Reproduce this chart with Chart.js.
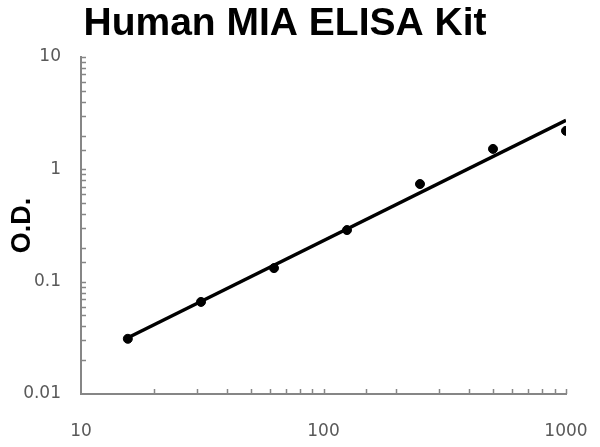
<!DOCTYPE html>
<html>
<head>
<meta charset="utf-8">
<script src="https://cdn.jsdelivr.net/npm/chart.js@4.4.1/dist/chart.umd.min.js"></script>
<style>
  body { margin: 0; background: #fff; }
</style>
</head>
<body>
<canvas id="c" width="600" height="447"></canvas>
<script>
// standard curve values
const concentrations = [15.6, 31.25, 62.5, 125, 250, 500, 1000];
const odValues = [0.031, 0.066, 0.132, 0.288, 0.74, 1.52, 2.2];

// fitted power-law trend line (end points)
const trendX = [15.6, 1000];
const trendY = [0.0317, 2.73];

const titleText = "Human MIA ELISA Kit";
const yTitle = "O.D.";
const xRange = [10, 1000];
const yRange = [0.01, 10];

const axisGray = "#868686";
const labelGray = "#595959";

function isDecade(v) {
  const l = Math.log10(v);
  return Math.abs(l - Math.round(l)) < 1e-9;
}

// ticks drawn inward from the axis lines
const innerTicks = {
  id: "innerTicks",
  afterDatasetsDraw(chart) {
    const ctx = chart.ctx;
    const xs = chart.scales.x, ys = chart.scales.y;
    const area = chart.chartArea;
    ctx.save();
    ctx.strokeStyle = axisGray;
    ctx.lineWidth = 1.5;
    ctx.beginPath();
    xs.ticks.forEach(t => {
      if (t.value <= xRange[0]) return;
      const px = Math.round(xs.getPixelForValue(t.value)) + 0.5;
      ctx.moveTo(px, area.bottom);
      ctx.lineTo(px, area.bottom - 5);
    });
    ys.ticks.forEach(t => {
      if (t.value <= yRange[0]) return;
      const py = Math.round(ys.getPixelForValue(t.value)) + 0.5;
      ctx.moveTo(area.left, py);
      ctx.lineTo(area.left + 5, py);
    });
    ctx.stroke();
    ctx.restore();
  }
};

const headline = {
  id: "headline",
  afterDraw(chart) {
    const ctx = chart.ctx;
    ctx.save();
    ctx.fillStyle = "#000";
    ctx.font = "bold 39px 'Liberation Sans', Arial, sans-serif";
    ctx.textAlign = "center";
    ctx.textBaseline = "alphabetic";
    ctx.fillText(titleText, 285, 35);
    ctx.restore();
  }
};

new Chart(document.getElementById("c"), {
  type: "scatter",
  data: {
    datasets: [
      {
        type: "line",
        data: trendX.map((x, i) => ({ x: x, y: trendY[i] })),
        borderColor: "#000",
        borderWidth: 3.5,
        pointRadius: 0,
        fill: false
      },
      {
        data: concentrations.map((x, i) => ({ x: x, y: odValues[i] })),
        backgroundColor: "#000",
        borderColor: "#000",
        pointRadius: 4.5,
        pointHoverRadius: 4.5
      }
    ]
  },
  options: {
    responsive: false,
    animation: false,
    layout: { padding: { top: 57, right: 34, left: 0, bottom: 0 } },
    plugins: {
      legend: { display: false },
      tooltip: { enabled: false }
    },
    scales: {
      x: {
        type: "logarithmic",
        min: xRange[0],
        max: xRange[1],
        afterFit(s) {
          s.height = 53;
          s.paddingLeft = 0;
          s.paddingRight = 0;
        },
        grid: { drawOnChartArea: false, drawTicks: false },
        border: { display: true, color: axisGray, width: 2 },
        ticks: {
          autoSkip: false,
          maxRotation: 0,
          padding: 27,
          color: labelGray,
          font: { family: "'DejaVu Sans'", size: 17 },
          callback: v => isDecade(v) ? String(v) : ""
        }
      },
      y: {
        type: "logarithmic",
        min: yRange[0],
        max: yRange[1],
        afterFit(s) {
          s.width = 81;
          s.paddingTop = 0;
          s.paddingBottom = 0;
        },
        grid: { drawOnChartArea: false, drawTicks: false },
        border: { display: true, color: axisGray, width: 2 },
        title: {
          display: true,
          text: yTitle,
          color: "#000",
          padding: { top: 6, bottom: 0 },
          font: { family: "'Liberation Sans', Arial, sans-serif", size: 27, weight: "bold" }
        },
        ticks: {
          autoSkip: false,
          padding: 20,
          color: labelGray,
          font: { family: "'DejaVu Sans'", size: 17 },
          callback: v => isDecade(v) ? String(v) : ""
        }
      }
    }
  },
  plugins: [innerTicks, headline]
});
</script>
</body>
</html>
